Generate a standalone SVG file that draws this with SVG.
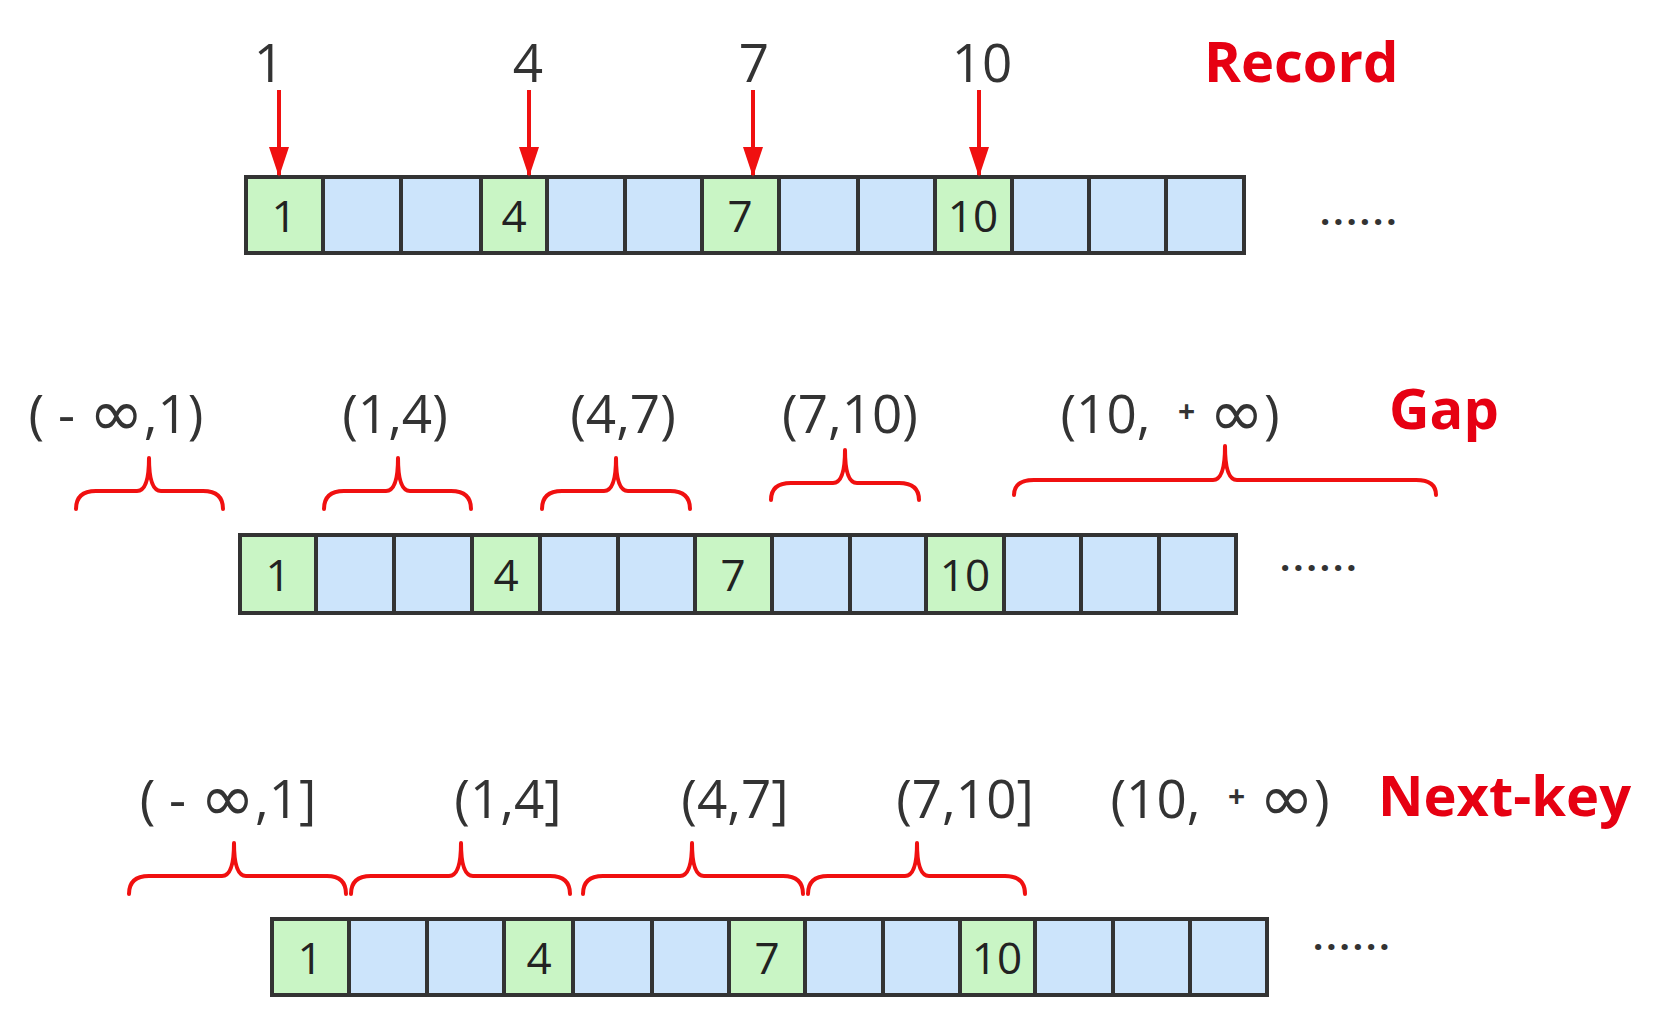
<svg xmlns="http://www.w3.org/2000/svg" width="1656" height="1024" viewBox="0 0 1656 1024">
<defs>
<style>
.lbl{font-family:"Open Sans","Noto Sans",sans-serif;font-size:53px;fill:#333;text-anchor:middle;white-space:pre}
.inf{font-family:"DejaVu Sans",sans-serif;font-size:66px}
.pl{font-size:30px;font-weight:bold}
.ttl{font-family:"Open Sans","Noto Sans",sans-serif;font-size:56px;font-weight:bold;fill:#e60012}
.num{font-family:"Open Sans","Noto Sans",sans-serif;font-size:44px;fill:#222;text-anchor:middle}
.dots{font-family:"Open Sans","Noto Sans",sans-serif;font-size:36px;font-weight:bold;fill:#333;letter-spacing:3px}
.g{fill:#c9f5c5;stroke:#333;stroke-width:4}
.b{fill:#cce4fb;stroke:#333;stroke-width:4}
.brace{fill:none;stroke:#f01010;stroke-width:4;stroke-linecap:round;stroke-linejoin:round}
.arrow{stroke:#f01010;stroke-width:4;marker-end:url(#ah)}
</style>
<marker id="ah" markerUnits="userSpaceOnUse" markerWidth="30" markerHeight="22" refX="28" refY="10" orient="auto">
<path d="M0,0 L30,10 L0,20 Z" fill="#f01010"/>
</marker>
</defs>
<rect width="1656" height="1024" fill="#ffffff"/>

<!-- Row 1: Record -->
<g id="record-labels">
<text class="lbl" x="269" y="82">1</text>
<text class="lbl" x="528" y="82">4</text>
<text class="lbl" x="754" y="82">7</text>
<text class="lbl" x="982" y="82">10</text>
<text class="ttl" x="1204" y="82">Record</text>
</g>
<g id="row1">
<rect class="g" x="246" y="177" width="77" height="76"/>
<rect class="b" x="323" y="177" width="78" height="76"/>
<rect class="b" x="401" y="177" width="80" height="76"/>
<rect class="g" x="481" y="177" width="66" height="76"/>
<rect class="b" x="547" y="177" width="78" height="76"/>
<rect class="b" x="625" y="177" width="77" height="76"/>
<rect class="g" x="702" y="177" width="77" height="76"/>
<rect class="b" x="779" y="177" width="79" height="76"/>
<rect class="b" x="858" y="177" width="77" height="76"/>
<rect class="g" x="935" y="177" width="77" height="76"/>
<rect class="b" x="1012" y="177" width="77" height="76"/>
<rect class="b" x="1089" y="177" width="77" height="76"/>
<rect class="b" x="1166" y="177" width="78" height="76"/>
<text class="num" x="284" y="232">1</text>
<text class="num" x="514" y="232">4</text>
<text class="num" x="740" y="232">7</text>
<text class="num" x="973" y="232">10</text>
<text class="dots" x="1320" y="225">......</text>
</g>

<!-- Row 2: Gap -->
<g id="gap-labels">
<text class="lbl" x="116" y="433">( - <tspan class="inf" dy="3">∞</tspan><tspan dy="-3">,1)</tspan></text>
<text class="lbl" x="395" y="433">(1,4)</text>
<text class="lbl" x="623" y="433">(4,7)</text>
<text class="lbl" x="850" y="433">(7,10)</text>
<text class="lbl" x="1170" y="433">(10,  <tspan class="pl" dy="-11">+</tspan><tspan dy="11"> </tspan><tspan class="inf" dy="3">∞</tspan><tspan dy="-3">)</tspan></text>
<text class="ttl" x="1389" y="429">Gap</text>
</g>
<g id="row2">
<rect class="g" x="240" y="535" width="76" height="78"/>
<rect class="b" x="316" y="535" width="78" height="78"/>
<rect class="b" x="394" y="535" width="78" height="78"/>
<rect class="g" x="472" y="535" width="68" height="78"/>
<rect class="b" x="540" y="535" width="78" height="78"/>
<rect class="b" x="618" y="535" width="77" height="78"/>
<rect class="g" x="695" y="535" width="77" height="78"/>
<rect class="b" x="772" y="535" width="78" height="78"/>
<rect class="b" x="850" y="535" width="76" height="78"/>
<rect class="g" x="926" y="535" width="78" height="78"/>
<rect class="b" x="1004" y="535" width="77" height="78"/>
<rect class="b" x="1081" y="535" width="78" height="78"/>
<rect class="b" x="1159" y="535" width="77" height="78"/>
<text class="num" x="278" y="591">1</text>
<text class="num" x="506" y="591">4</text>
<text class="num" x="733" y="591">7</text>
<text class="num" x="965" y="591">10</text>
<text class="dots" x="1280" y="571">......</text>
</g>

<!-- Row 3: Next-key -->
<g id="nextkey-labels">
<text class="lbl" x="228" y="818">( - <tspan class="inf" dy="3">∞</tspan><tspan dy="-3">,1]</tspan></text>
<text class="lbl" x="508" y="818">(1,4]</text>
<text class="lbl" x="735" y="818">(4,7]</text>
<text class="lbl" x="965" y="818">(7,10]</text>
<text class="lbl" x="1220" y="818">(10,  <tspan class="pl" dy="-11">+</tspan><tspan dy="11"> </tspan><tspan class="inf" dy="3">∞</tspan><tspan dy="-3">)</tspan></text>
<text class="ttl" x="1378" y="816">Next-key</text>
</g>
<g id="row3">
<rect class="g" x="272" y="919" width="77" height="76"/>
<rect class="b" x="349" y="919" width="78" height="76"/>
<rect class="b" x="427" y="919" width="77" height="76"/>
<rect class="g" x="504" y="919" width="69" height="76"/>
<rect class="b" x="573" y="919" width="79" height="76"/>
<rect class="b" x="652" y="919" width="77" height="76"/>
<rect class="g" x="729" y="919" width="76" height="76"/>
<rect class="b" x="805" y="919" width="78" height="76"/>
<rect class="b" x="883" y="919" width="77" height="76"/>
<rect class="g" x="960" y="919" width="75" height="76"/>
<rect class="b" x="1035" y="919" width="78" height="76"/>
<rect class="b" x="1113" y="919" width="77" height="76"/>
<rect class="b" x="1190" y="919" width="77" height="76"/>
<text class="num" x="310" y="974">1</text>
<text class="num" x="539" y="974">4</text>
<text class="num" x="767" y="974">7</text>
<text class="num" x="997" y="974">10</text>
<text class="dots" x="1313" y="950">......</text>
</g>

<g id="connectors">
<line class="arrow" x1="279" y1="90" x2="279" y2="175"/>
<line class="arrow" x1="529" y1="90" x2="529" y2="175"/>
<line class="arrow" x1="753" y1="90" x2="753" y2="175"/>
<line class="arrow" x1="979" y1="90" x2="979" y2="175"/>

<path class="brace" d="M76,509 Q76,491 96,491 L137,491 Q149,491 149,458 Q149,491 161,491 L203,491 Q223,491 223,509"/>
<path class="brace" d="M324,509 Q324,491 344,491 L386,491 Q398,491 398,458 Q398,491 410,491 L451,491 Q471,491 471,509"/>
<path class="brace" d="M542,509 Q542,491 562,491 L604,491 Q616,491 616,458 Q616,491 628,491 L670,491 Q690,491 690,509"/>
<path class="brace" d="M771,500 Q771,483 791,483 L833,483 Q845,483 845,450 Q845,483 857,483 L899,483 Q919,483 919,500"/>
<path class="brace" d="M1014,495 Q1014,480 1034,480 L1213,480 Q1225,480 1225,446 Q1225,480 1237,480 L1416,480 Q1436,480 1436,495"/>

<path class="brace" d="M129,894 Q129,876 149,876 L222,876 Q234,876 234,843 Q234,876 246,876 L327,876 Q346,876 346,894"/>
<path class="brace" d="M351,894 Q351,876 371,876 L449,876 Q461,876 461,843 Q461,876 473,876 L550,876 Q570,876 570,894"/>
<path class="brace" d="M583,894 Q583,876 603,876 L680,876 Q692,876 692,843 Q692,876 704,876 L783,876 Q803,876 803,894"/>
<path class="brace" d="M808,894 Q808,876 828,876 L905,876 Q917,876 917,843 Q917,876 929,876 L1005,876 Q1025,876 1025,894"/>
</g>
</svg>
